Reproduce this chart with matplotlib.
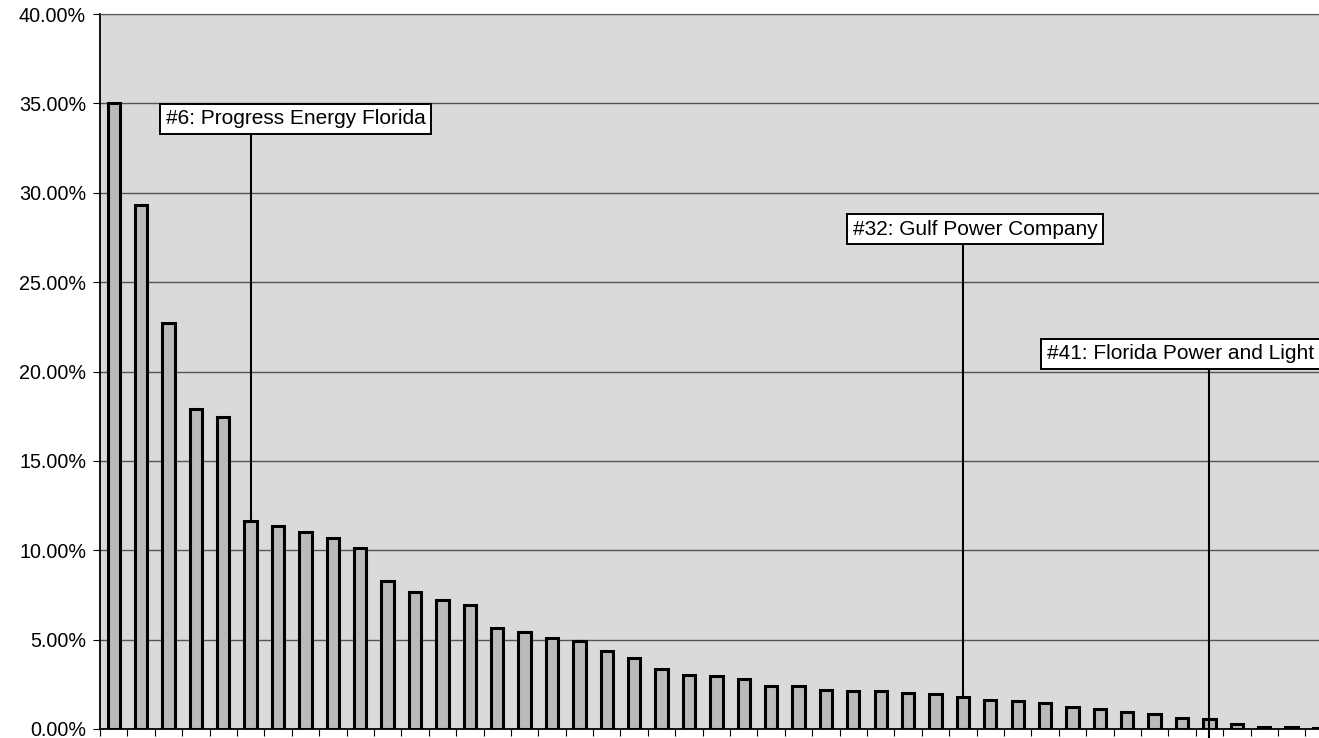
import matplotlib.pyplot as plt
from matplotlib.ticker import FuncFormatter, MultipleLocator

# share of customers (%) per utility, ranked
values = [35.0, 29.33, 22.74, 17.93, 17.43, 11.62, 11.34, 11.0, 10.67, 10.11,
          8.27, 7.65, 7.2, 6.93, 5.64, 5.42, 5.08, 4.92, 4.36, 3.97,
          3.35, 3.02, 2.96, 2.79, 2.42, 2.40, 2.18, 2.12, 2.10, 2.02,
          1.98, 1.79, 1.62, 1.58, 1.47, 1.23, 1.12, 0.95, 0.84, 0.63,
          0.56, 0.28, 0.12, 0.10, 0.08]
ranks = list(range(1, len(values) + 1))

# highlighted utilities: rank, label, label height (%), label left (rank units)
callout_ranks = [6, 32, 41]
callout_labels = ['#6: Progress Energy Florida', '#32: Gulf Power Company',
                  '#41: Florida Power and Light']
callout_y = [34.13, 27.97, 20.98]
callout_x = [2.9, 27.98, 35.08]
callout_end = [None, None, -0.45]

plt.rcParams['font.family'] = ['Liberation Sans', 'DejaVu Sans']

fig = plt.figure(figsize=(13.19, 7.38), dpi=100)
ax = fig.add_axes([100 / 1319, 9 / 738, 1219 / 1319, 715 / 738])
ax.set_facecolor('#dadada')

ax.bar(ranks, values, width=0.45, color='#bababa', edgecolor='black',
       linewidth=2.2, zorder=3)

ax.set_xlim(0.5, 45.0)
ax.set_ylim(0, 40)
ax.yaxis.set_major_locator(MultipleLocator(5))
ax.yaxis.set_major_formatter(FuncFormatter(lambda v, p: f'{v:.2f}%'))
ax.grid(axis='y', color='#555555', linewidth=1, zorder=1)

ax.set_xticks([r + 0.5 for r in ranks[:-1]] + [0.5])
ax.set_xticklabels([])
ax.tick_params(axis='x', direction='out', length=5, width=0.8)
ax.tick_params(axis='y', direction='out', length=5, width=0.8,
               labelsize=14.2, pad=5, colors='black')

ax.spines['right'].set_visible(False)
ax.spines['top'].set_color('#555555')
ax.spines['left'].set_linewidth(1.3)
ax.spines['bottom'].set_linewidth(1.3)

for r, lab, ty, tx, ye in zip(callout_ranks, callout_labels, callout_y,
                              callout_x, callout_end):
    top = values[r - 1]
    end = top if ye is None else ye
    # line starts behind the label box, so it meets the box edge
    ax.plot([r, r], [ty, end], color='black', linewidth=1.5, zorder=4,
            clip_on=False)
    ax.text(tx, ty, lab, ha='left', va='center', fontsize=15, zorder=5,
            bbox=dict(boxstyle='square,pad=0.28', facecolor='white',
                      edgecolor='black', linewidth=1.4))

fig.savefig('out.png', dpi=100)
